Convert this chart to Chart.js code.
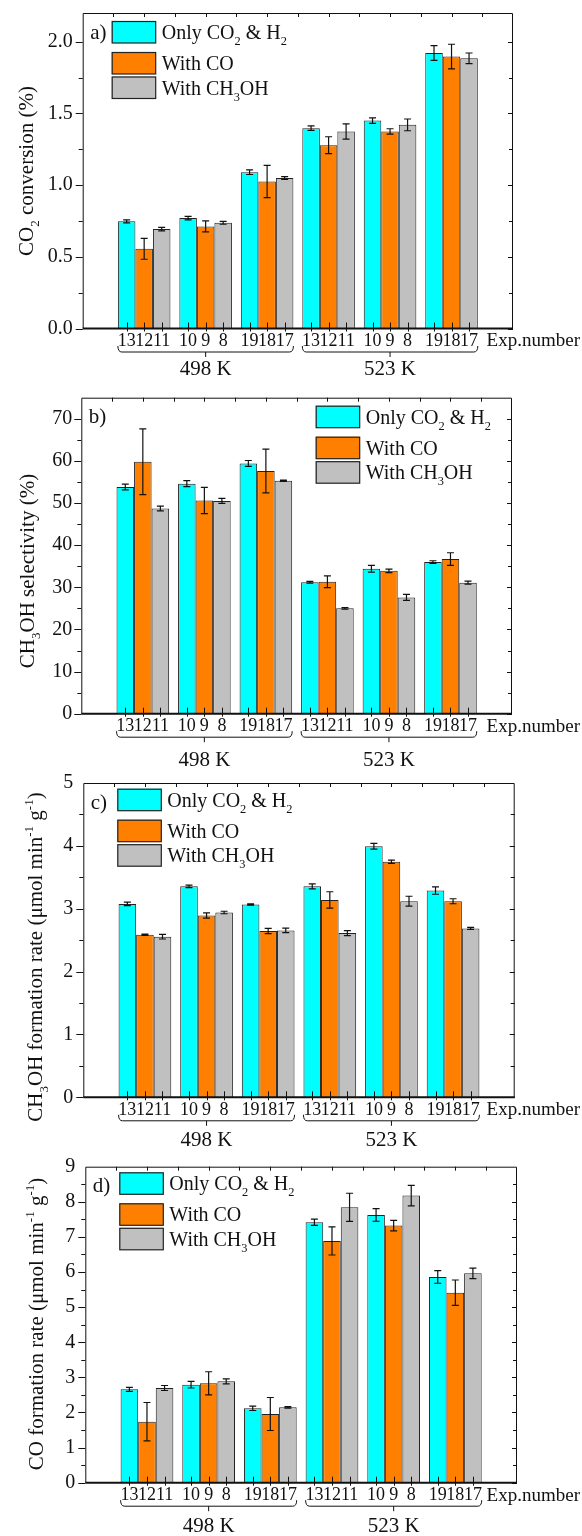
<!DOCTYPE html>
<html lang="en">
<head>
<meta charset="UTF-8">
<title>CO2 hydrogenation results</title>
<script src="https://cdn.jsdelivr.net/npm/chart.js"></script>
<style>
  body { margin: 0; background: #fff; width: 582px; height: 1536px; position: relative; overflow: hidden; }
  canvas { position: absolute; left: 0; }
</style>
</head>
<body>
<canvas id="chartA" width="582" height="385" style="top:0px"></canvas>
<canvas id="chartB" width="582" height="385" style="top:385px"></canvas>
<canvas id="chartC" width="582" height="380" style="top:770px"></canvas>
<canvas id="chartD" width="582" height="386" style="top:1150px"></canvas>
<script>
// groups: 3 experiments at 498 K, then 3 at 523 K
const groups = [1, 2, 3, 4, 5, 6];
const temps = ['498 K', '523 K'];
const seriesNames = ['Only CO_{2} & H_{2}', 'With CO', 'With CH_{3}OH'];
const seriesColors = ['#00FFFF', '#FF8000', '#C0C0C0'];
const expOnly = ['13', '10', '19', '13', '10', '19'];
const expCO = ['12', '9', '18', '12', '9', '18'];
const expMeOH = ['11', '8', '17', '11', '8', '17'];

// a) CO2 conversion (%)
const convOnly = [0.747, 0.770, 1.090, 1.397, 1.450, 1.921];
const convOnlyErr = [0.010, 0.012, 0.016, 0.016, 0.019, 0.051];
const convCO = [0.556, 0.712, 1.025, 1.278, 1.374, 1.896];
const convCOErr = [0.073, 0.038, 0.113, 0.059, 0.019, 0.086];
const convMeOH = [0.693, 0.737, 1.049, 1.374, 1.420, 1.884];
const convMeOHErr = [0.012, 0.010, 0.010, 0.053, 0.041, 0.037];

// b) CH3OH selectivity (%)
const selOnly = [53.8, 54.6, 59.4, 31.2, 34.4, 36.0];
const selOnlyErr = [0.7, 0.7, 0.7, 0.2, 0.8, 0.3];
const selCO = [59.8, 50.6, 57.6, 31.3, 33.9, 36.7];
const selCOErr = [7.8, 3.1, 5.2, 1.4, 0.4, 1.5];
const selMeOH = [48.7, 50.5, 55.3, 25.0, 27.6, 31.1];
const selMeOHErr = [0.55, 0.6, 0.15, 0.2, 0.7, 0.35];

// c) CH3OH formation rate (umol min-1 g-1)
const meohOnly = [3.077, 3.356, 3.066, 3.356, 3.994, 3.288];
const meohOnlyErr = [0.029, 0.020, 0.010, 0.040, 0.045, 0.058];
const meohCO = [2.587, 2.893, 2.645, 3.140, 3.746, 3.119];
const meohCOErr = [0.010, 0.042, 0.042, 0.130, 0.026, 0.040];
const meohMeOH = [2.555, 2.940, 2.655, 2.613, 3.119, 2.687];
const meohMeOHErr = [0.037, 0.020, 0.035, 0.040, 0.079, 0.015];

// d) CO formation rate (umol min-1 g-1)
const coOnly = [2.659, 2.792, 2.118, 7.417, 7.626, 5.860];
const coOnlyErr = [0.057, 0.095, 0.062, 0.090, 0.180, 0.180];
const coCO = [1.738, 2.830, 1.956, 6.885, 7.322, 5.413];
const coCOErr = [0.546, 0.330, 0.470, 0.400, 0.147, 0.360];
const coMeOH = [2.697, 2.887, 2.146, 7.844, 8.177, 5.964];
const coMeOHErr = [0.071, 0.071, 0.020, 0.400, 0.290, 0.150];

const FONT = '"Liberation Serif", "Times New Roman", serif';
const INK = '#111';

// text with _{sub} and ^{sup}
function richParts(str) {
  const parts = [];
  const re = /([_^])\{([^}]*)\}/g;
  let last = 0, m;
  while ((m = re.exec(str))) {
    if (m.index > last) parts.push({ t: str.slice(last, m.index), mode: 0 });
    parts.push({ t: m[2], mode: m[1] === '_' ? 1 : 2 });
    last = re.lastIndex;
  }
  if (last < str.length) parts.push({ t: str.slice(last), mode: 0 });
  return parts;
}

function drawRich(ctx, str, x, y, size, align) {
  const parts = richParts(str);
  let w = 0;
  parts.forEach(p => {
    ctx.font = (p.mode ? size * 0.62 : size) + 'px ' + FONT;
    p.w = ctx.measureText(p.t).width;
    w += p.w;
  });
  let cx = align === 'center' ? x - w / 2 : (align === 'right' ? x - w : x);
  ctx.textAlign = 'left';
  ctx.textBaseline = 'alphabetic';
  parts.forEach(p => {
    ctx.font = (p.mode ? size * 0.62 : size) + 'px ' + FONT;
    const dy = p.mode === 1 ? size * 0.3 : (p.mode === 2 ? -size * 0.42 : 0);
    ctx.fillText(p.t, cx, y + dy);
    cx += p.w;
  });
}

const panels = [
  {
    id: 'chartA', letter: 'a)', title: 'CO_{2} conversion (%)',
    values: [convOnly, convCO, convMeOH], errors: [convOnlyErr, convCOErr, convMeOHErr],
    max: 2.2, step: 0.5, minor: 0.25, fmt: v => v.toFixed(1),
    left: 82.7, top: 12.7, right: 69, bottom: 56.5, tickPad: 3,
    legendX: 29, legendY: 8, titleX: 33, titleY: 171, tempOff: 41
  },
  {
    id: 'chartB', letter: 'b)', title: 'CH_{3}OH selectivity (%)',
    values: [selOnly, selCO, selMeOH], errors: [selOnlyErr, selCOErr, selMeOHErr],
    max: 75, step: 10, minor: 5, fmt: v => String(v),
    left: 81.3, top: 12.7, right: 70, bottom: 56.3, tickPad: 2,
    legendX: 234.4, legendY: 8, titleX: 33.5, titleY: 186, tempOff: 47
  },
  {
    id: 'chartC', letter: 'c)', title: 'CH_{3}OH formation rate (μmol min^{-1} g^{-1})',
    values: [meohOnly, meohCO, meohMeOH], errors: [meohOnlyErr, meohCOErr, meohMeOHErr],
    max: 5, step: 1, minor: 0.5, fmt: v => String(v),
    left: 83.3, top: 11, right: 67.3, bottom: 52.7, tickPad: 3,
    legendX: 34, legendY: 5.7, titleX: 41.7, titleY: 187, tempOff: 43
  },
  {
    id: 'chartD', letter: 'd)', title: 'CO formation rate (μmol min^{-1} g^{-1})',
    values: [coOnly, coCO, coMeOH], errors: [coOnlyErr, coCOErr, coMeOHErr],
    max: 9, step: 1, minor: 0.5, fmt: v => String(v),
    left: 85.3, top: 16.7, right: 65, bottom: 53.3, tickPad: 3,
    legendX: 34, legendY: 5.6, titleX: 43.3, titleY: 174, tempOff: 44
  }
];

const expNumbers = [expOnly, expCO, expMeOH];
const legendRows = [0, 31, 55.5];

function makeDecor(p) {
  return {
    id: 'decor',
    afterDatasetsDraw(chart) {
      // error bars
      const { ctx, scales: { y } } = chart;
      ctx.save();
      ctx.strokeStyle = INK;
      ctx.lineWidth = 1.2;
      p.values.forEach((vals, d) => {
        chart.getDatasetMeta(d).data.forEach((el, i) => {
          const yt = y.getPixelForValue(vals[i] + p.errors[d][i]);
          const yb = y.getPixelForValue(vals[i] - p.errors[d][i]);
          ctx.beginPath();
          ctx.moveTo(el.x, yt); ctx.lineTo(el.x, yb);
          ctx.moveTo(el.x - 3.5, yt); ctx.lineTo(el.x + 3.5, yt);
          ctx.moveTo(el.x - 3.5, yb); ctx.lineTo(el.x + 3.5, yb);
          ctx.stroke();
        });
      });
      ctx.restore();
    },
    afterDraw(chart) {
      const { ctx, chartArea: a, scales: { x, y } } = chart;
      ctx.save();
      ctx.strokeStyle = INK;
      ctx.fillStyle = INK;
      ctx.lineWidth = 1;

      // frame
      ctx.beginPath();
      ctx.moveTo(a.left + 0.5, a.bottom);
      ctx.lineTo(a.left + 0.5, a.top + 0.5);
      ctx.lineTo(a.right - 0.5, a.top + 0.5);
      ctx.lineTo(a.right - 0.5, a.bottom);
      ctx.stroke();

      // y ticks, left outward and right inward
      const n = Math.floor(p.max / p.minor + 1e-6);
      ctx.beginPath();
      for (let i = 0; i <= n; i++) {
        const v = i * p.minor;
        if (v >= p.max - 1e-9) continue;
        const major = Math.abs(v / p.step - Math.round(v / p.step)) < 1e-6;
        const py = Math.round(y.getPixelForValue(v)) + 0.5;
        ctx.moveTo(a.left, py); ctx.lineTo(a.left - (major ? 7 : 4), py);
        ctx.moveTo(a.right, py); ctx.lineTo(a.right - (major ? 5 : 4), py);
      }
      // top ticks
      for (let i = 1; i <= 13; i++) {
        const px = Math.round(x.getPixelForValue(i * 0.5)) + 0.5;
        ctx.moveTo(px, a.top); ctx.lineTo(px, a.top + 4);
      }
      ctx.stroke();

      // bottom axis
      ctx.lineWidth = 2;
      ctx.beginPath();
      ctx.moveTo(a.left, a.bottom); ctx.lineTo(a.right, a.bottom);
      ctx.stroke();

      // experiment ticks and numbers
      ctx.lineWidth = 1;
      ctx.font = '18px ' + FONT;
      ctx.textAlign = 'center';
      ctx.textBaseline = 'middle';
      ctx.beginPath();
      expNumbers.forEach((labels, d) => {
        chart.getDatasetMeta(d).data.forEach((el, i) => {
          const px = Math.round(el.x) + 0.5;
          ctx.moveTo(px, a.bottom - 6); ctx.lineTo(px, a.bottom + 3);
          ctx.fillText(labels[i], el.x, a.bottom + 13);
        });
      });
      ctx.stroke();
      ctx.font = '19px ' + FONT;
      ctx.textAlign = 'right';
      ctx.fillText('Exp.number', chart.width - 2, a.bottom + 13);

      // temperature brackets
      const m0 = chart.getDatasetMeta(0).data;
      const m2 = chart.getDatasetMeta(2).data;
      temps.forEach((t, k) => {
        const f = m0[k * 3], l = m2[k * 3 + 2];
        const x1 = f.x - f.width / 2, x2 = l.x + l.width / 2;
        const yb = a.bottom + 23.5;
        const xm = (x1 + x2) / 2;
        ctx.beginPath();
        ctx.moveTo(x1, yb - 6);
        ctx.quadraticCurveTo(x1, yb, x1 + 4, yb);
        ctx.lineTo(x2 - 4, yb);
        ctx.quadraticCurveTo(x2, yb, x2, yb - 6);
        ctx.moveTo(xm, yb); ctx.lineTo(xm, yb + 5);
        ctx.stroke();
        ctx.font = '21px ' + FONT;
        ctx.textAlign = 'center';
        ctx.textBaseline = 'middle';
        ctx.fillText(t, xm, a.bottom + p.tempOff);
      });

      // panel letter
      ctx.font = '21px ' + FONT;
      ctx.textAlign = 'left';
      ctx.textBaseline = 'alphabetic';
      ctx.fillText(p.letter, a.left + 7.5, a.top + 25.5);

      // legend
      seriesNames.forEach((name, d) => {
        const bx = a.left + p.legendX;
        const by = a.top + p.legendY + legendRows[d];
        ctx.fillStyle = seriesColors[d];
        ctx.fillRect(bx, by, 44, 22);
        ctx.strokeStyle = '#222';
        ctx.lineWidth = 1.2;
        ctx.strokeRect(bx + 0.5, by + 0.5, 43.5, 21.5);
        ctx.fillStyle = INK;
        drawRich(ctx, name, bx + 50, by + 18, 20, 'left');
      });

      // y title
      ctx.translate(p.titleX, p.titleY);
      ctx.rotate(-Math.PI / 2);
      drawRich(ctx, p.title, 0, 0, 21, 'center');
      ctx.restore();
    }
  };
}

panels.forEach(p => {
  new Chart(document.getElementById(p.id), {
    type: 'bar',
    data: {
      datasets: p.values.map((vals, d) => ({
        label: seriesNames[d],
        data: groups.map((g, i) => ({ x: g, y: vals[i] })),
        backgroundColor: seriesColors[d],
        borderColor: '#222',
        borderWidth: 1,
        categoryPercentage: 0.855,
        barPercentage: 1
      }))
    },
    options: {
      responsive: false,
      animation: false,
      layout: { autoPadding: false, padding: { left: 0, top: p.top, right: p.right, bottom: p.bottom } },
      plugins: { legend: { display: false }, tooltip: { enabled: false } },
      scales: {
        x: { type: 'linear', min: 0, max: 7, offset: false, display: false, ticks: { stepSize: 1 } },
        y: {
          min: 0, max: p.max,
          grid: { display: false, drawTicks: true, tickLength: 7 },
          border: { display: false },
          ticks: {
            stepSize: p.step, includeBounds: false, padding: p.tickPad, color: INK,
            font: { family: FONT, size: 20, lineHeight: 1 },
            callback: p.fmt
          },
          afterFit: s => { s.width = p.left; }
        }
      }
    },
    plugins: [makeDecor(p)]
  });
});
</script>
</body>
</html>
